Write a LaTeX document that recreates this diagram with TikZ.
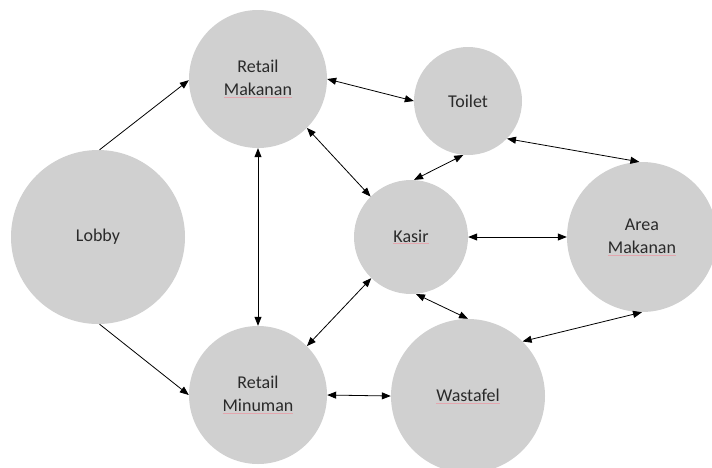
\documentclass[tikz,border=0pt]{standalone}
\usepackage{fontspec}
\setmainfont{Carlito}
\usetikzlibrary{arrows.meta}
\definecolor{circfill}{HTML}{D0D0D0}
\definecolor{txt}{HTML}{2A2A2A}
\definecolor{spell}{HTML}{E3A6AE}
\newcommand{\spellword}[1]{\textcolor{spell}{\underline{\textcolor{txt}{#1}}}}
\begin{document}
\begin{tikzpicture}[x=1pt,y=-1pt,
  place/.style={circle,fill=circfill,draw=none,inner sep=0pt,minimum size=#1,
    align=center,text=txt,font=\fontsize{18}{23}\selectfont},
  link/.style={draw=black,line width=0.8pt,-{Triangle[length=9pt,width=7pt]}},
  biline/.style={draw=black,line width=0.8pt,{Triangle[length=9pt,width=7pt]}-{Triangle[length=9pt,width=7pt]}}]
\useasboundingbox (0,0) rectangle (712,467);
\node[place=174pt] (lobby) at (98,237) {Lobby};
\node[place=138pt] (rmak) at (258,79) {Retail\\\spellword{Makanan}};
\node[place=108pt] (toilet) at (468,101) {Toilet};
\node[place=114pt] (kasir) at (411,237) {\spellword{Kasir}};
\node[place=150pt] (area) at (642,237) {Area\\\spellword{Makanan}};
\node[place=138pt] (rmin) at (258,395) {Retail\\\spellword{Minuman}};
\node[place=154pt] (wast) at (468,396) {\spellword{Wastafel}};
\draw[link] (lobby.89) -- (rmak.181);
\draw[link] (lobby.271) -- (rmin.180);
\draw[biline] (rmak.south) -- (rmin.north);
\draw[biline] (rmak.0) -- (toilet.180);
\draw[biline] (rmak.-45) -- (kasir.135);
\draw[biline] (toilet.265) -- (kasir.87);
\draw[biline] (toilet.-44) -- (area.92);
\draw[biline] (kasir.0) -- (area.180);
\draw[biline] (kasir.-85) -- (wast.90);
\draw[biline] (wast.45) -- (area.-90);
\draw[biline] (kasir.226) -- (rmin.45);
\draw[biline] (rmin.0) -- (wast.180);
\end{tikzpicture}
\end{document}
